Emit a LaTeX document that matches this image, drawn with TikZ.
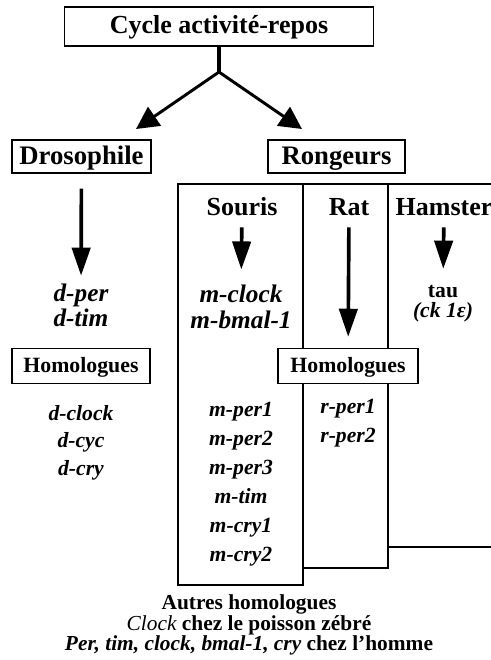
\documentclass[tikz,border=0pt]{standalone}
\usepackage{fontspec}
\setmainfont{Liberation Serif}
\usetikzlibrary{arrows.meta,positioning}

\begin{document}
\begin{tikzpicture}[x=0.025cm,y=-0.025cm,node distance=0.7cm]
        {

          \tikzstyle{titre}=[draw,line width=1.2pt,fill=white,minimum width=7.725cm,minimum height=0.975cm,inner ysep=0pt,text height=11.5pt,text depth=2pt,font=\bfseries\fontsize{18.5}{20}\selectfont]
          \tikzstyle{boite}=[draw,line width=1.2pt,fill=white,minimum height=0.825cm,inner ysep=0pt,text height=14pt,text depth=2pt,font=\bfseries\fontsize{19}{20}\selectfont]
          \tikzstyle{petiteboite}=[draw,line width=1.2pt,fill=white,minimum height=0.875cm,inner ysep=0pt,text height=11.2pt,text depth=2pt,font=\bfseries\fontsize{15.5}{16}\selectfont]
          \tikzstyle{espece}=[text height=2ex,text depth=0.35ex,font=\bfseries\fontsize{18.5}{20}\selectfont]
          \tikzstyle{gene}=[inner sep=1pt,text height=2ex,text depth=0.35ex,font=\bfseries\itshape\fontsize{18}{20}\selectfont]
          \tikzstyle{homologue}=[inner sep=1pt,text height=2ex,text depth=0.35ex,font=\bfseries\itshape\fontsize{15.4}{16}\selectfont]
          \tikzstyle{trait}=[line width=2.2pt]
          \tikzstyle{fleche}=[line width=2.6pt,-{Triangle[length=20pt,width=13pt]}]
          \tikzstyle{cadre}=[line width=1.2pt]
          \useasboundingbox (0,0) rectangle (491,660);
          \begin{scope}

            % cadres des rongeurs
            \draw [cadre] (178,184) rectangle (303,585);
            \draw [cadre] (303,184) rectangle (388,568);
            \draw [cadre] (491,184) -- (388,184) -- (388,547) -- (491,547);

            \node [titre] (c1) at (219,26.5) {Cycle activité-repos};
            \coordinate (c0) at (219,72);
            \coordinate (f1) at (136,129);
            \coordinate (f2) at (302,129);

            \node [boite,minimum width=3.475cm] (c2) at (81.5,156.5) {Drosophile};
            \node [boite,minimum width=3.43cm] (c3) at (336.5,156.5) {Rongeurs};

            \draw [trait] (c1) -- (c0);
            \draw [fleche,line width=2.1pt,-{Triangle[length=16pt,width=16pt]}] (c0) -- (f1);
            \draw [fleche,line width=2.1pt,-{Triangle[length=16pt,width=16pt]}] (c0) -- (f2);

            % drosophile
            \node [gene] (c4) at (81,296) {d-per};
            \node [gene] (c5) [below of=c4,node distance=0.625cm] {d-tim};
            \draw [fleche,shorten <=0.37cm,shorten >=0.275cm] (c2) -- (c4);
            \node [petiteboite,minimum width=3.45cm] (c6) at (81,366) {Homologues};
            \node [homologue] (c7) [below of=c6,node distance=1.22cm] {d-clock};
            \node [homologue] (c8) [below of=c7,node distance=0.69cm] {d-cyc};
            \node [homologue] (c9) [below of=c8,node distance=0.69cm] {d-cry};

            % souris
            \node [espece] (c10) at (242,210) {Souris};
            \node [gene] (c11) at (241,297) {m-clock};
            \node [gene] (c12) [below of=c11,node distance=0.65cm] {m-bmal-1};
            \draw [fleche,shorten <=0.12cm,shorten >=0.455cm] (c10) -- (c11);
            \node [homologue] (c13) at (241,411) {m-per1};
            \node [homologue] (c14) [below of=c13,node distance=0.725cm] {m-per2};
            \node [homologue] (c15) [below of=c14,node distance=0.725cm] {m-per3};
            \node [homologue] (c16) [below of=c15,node distance=0.725cm] {m-tim};
            \node [homologue] (c17) [below of=c16,node distance=0.725cm] {m-cry1};
            \node [homologue] (c18) [below of=c17,node distance=0.725cm] {m-cry2};

            % rat
            \node [espece] (c19) at (349,210) {Rat};
            \node [petiteboite,minimum width=3.5cm] (c20) at (348,366) {Homologues};
            \draw [fleche,shorten <=0.12cm,shorten >=0.27cm] (c19) -- (c20);
            \node [homologue] (c21) [below of=c20,node distance=1.05cm] {r-per1};
            \node [homologue] (c22) [below of=c21,node distance=0.725cm] {r-per2};

            % hamster
            \node [espece] (c23) at (444,210) {Hamster};
            \node [homologue,font=\bfseries\fontsize{15.4}{16}\selectfont] (c24) at (443,292) {tau};
            \node [homologue] (c25) [below of=c24,node distance=0.5cm] {(ck 1ε)};
            \draw [fleche,shorten <=0.12cm,shorten >=0.35cm] (c23) -- (c24);

            % autres homologues
            \node [align=center,font=\bfseries\fontsize{15.2}{13.1}\selectfont] (c26) at (249,625)
            {Autres homologues\\ {\mdseries\itshape Clock} chez le poisson zébré\\ {\itshape Per, tim, clock, bmal-1, cry} chez l'homme};

          \end{scope}
        }
\end{tikzpicture}
\end{document}
